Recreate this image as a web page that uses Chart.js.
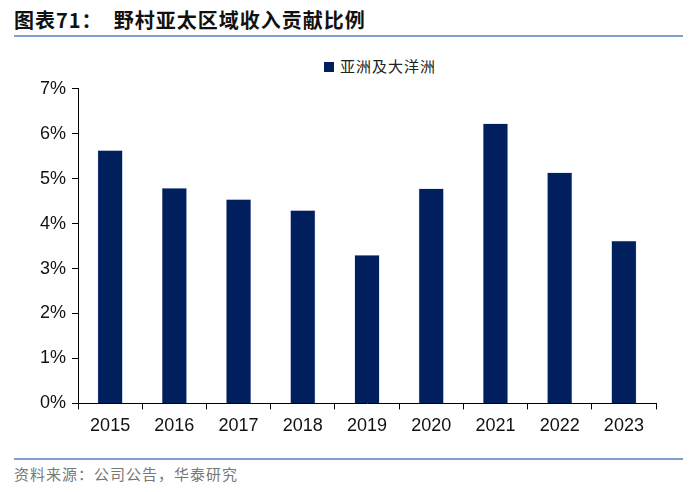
<!DOCTYPE html>
<html>
<head>
<meta charset="utf-8">
<script src="https://cdn.jsdelivr.net/npm/chart.js@4/dist/chart.umd.min.js"></script>
<style>
  body { margin: 0; width: 700px; height: 492px; background: #fff; position: relative; overflow: hidden; }
  .title { position: absolute; left: 14px; top: 5px; font: bold 20px "Noto Sans CJK SC", sans-serif; color: #111; letter-spacing: 1px; }
  .topline { position: absolute; left: 14px; right: 17px; top: 35px; height: 2px; background: #7f9fcf; }
  .botline { position: absolute; left: 14px; right: 17px; top: 458px; height: 2px; background: #7f9fcf; }
  .source { position: absolute; left: 14px; top: 463px; font: 15px "Noto Sans CJK SC", sans-serif; color: #777; letter-spacing: 1px; }
  .legend { position: absolute; left: 324px; top: 55px; font: 15px "Noto Sans CJK SC", sans-serif; color: #222; letter-spacing: 1px; }
  .legend i { display: inline-block; width: 10px; height: 10px; background: #001f5c; margin-right: 6px; vertical-align: 0px; }
  .wrap { position: absolute; left: 0; top: 72px; width: 700px; height: 371px; }
</style>
</head>
<body>
<div class="title">图表71：&nbsp;&nbsp;野村亚太区域收入贡献比例</div>
<div class="topline"></div>
<div class="legend"><i></i>亚洲及大洋洲</div>
<div class="wrap"><canvas id="barChart"></canvas></div>
<div class="botline"></div>
<div class="source">资料来源：公司公告，华泰研究</div>
<script>
const years = ["2015", "2016", "2017", "2018", "2019", "2020", "2021", "2022", "2023"];
const asiaOceania = [5.63, 4.79, 4.54, 4.30, 3.30, 4.78, 6.23, 5.14, 3.62];
const yTicks = [0, 1, 2, 3, 4, 5, 6, 7];

let ctx = document.getElementById("barChart").getContext("2d");

new Chart(ctx, {
  type: "bar",
  data: {
    labels: years,
    datasets: [
      {
        label: "亚洲及大洋洲",
        data: asiaOceania,
        backgroundColor: "#001f5c",
        borderColor: "#9fb3d6",
        borderWidth: 0.5,
        barPercentage: 0.39,
        categoryPercentage: 1,
      },
    ],
  },
  options: {
    responsive: true,
    maintainAspectRatio: false,
    animation: false,
    layout: { padding: { left: 34, right: 44, top: 0, bottom: 0 } },
    plugins: {
      tooltip: { enabled: false },
      legend: { display: false },
    },
    scales: {
      x: {
        offset: true,
        grid: { drawOnChartArea: false, offset: true, tickLength: 6, color: "#000" },
        border: { color: "#000", width: 1 },
        ticks: { color: "#111", font: { family: "'Liberation Sans'", size: 18 }, padding: 6 },
      },
      y: {
        min: 0,
        max: 7,
        afterBuildTicks: (axis) => { axis.ticks = yTicks.map((v) => ({ value: v })); },
        grid: { drawOnChartArea: false, tickLength: 6, color: "#000" },
        border: { color: "#000", width: 1 },
        ticks: {
          color: "#111",
          font: { family: "'Liberation Sans'", size: 18 },
          padding: 6,
          callback: (v) => v + "%",
        },
      },
    },
  },
});
</script>
</body>
</html>
